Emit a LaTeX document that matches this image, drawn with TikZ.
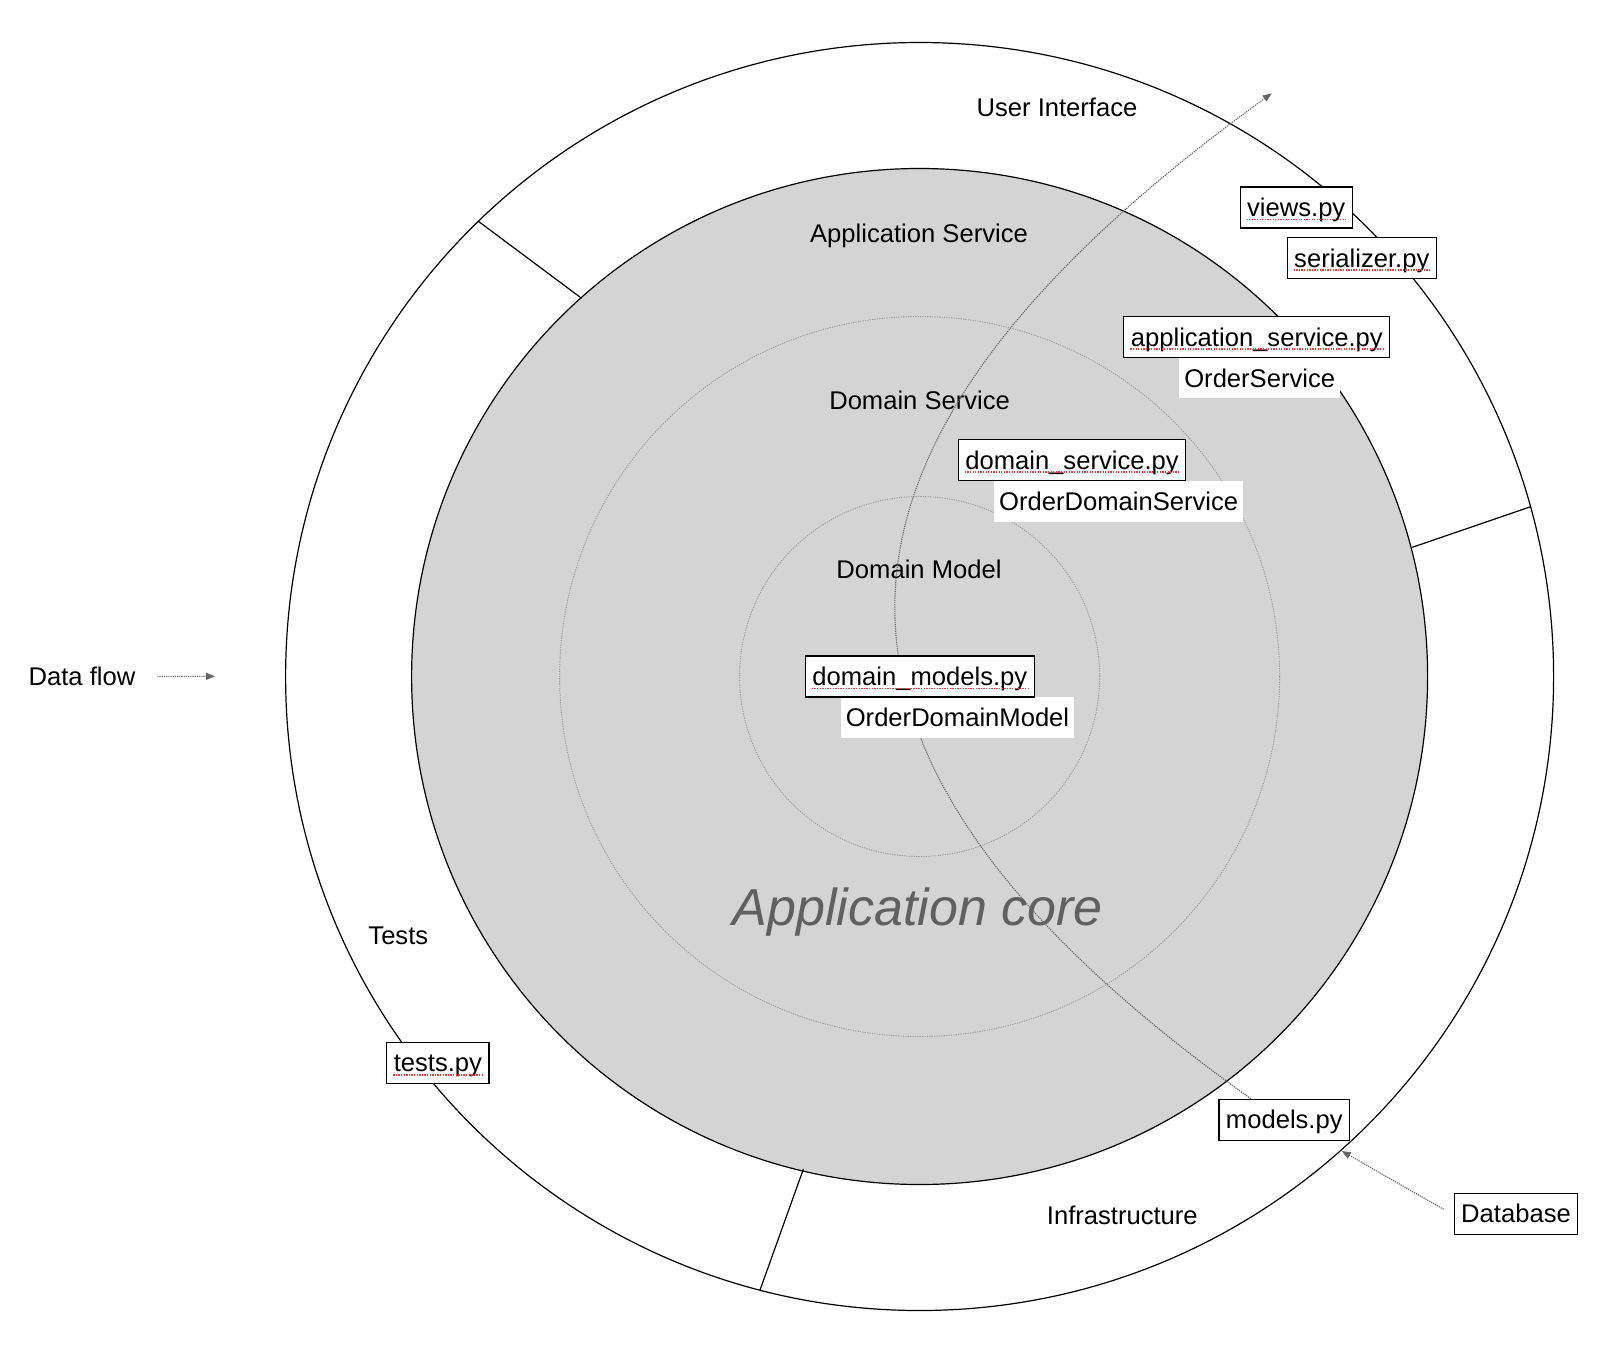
\documentclass[tikz,border=0pt]{standalone}
\usepackage{fontspec}
\setmainfont{Liberation Sans}
\usetikzlibrary{arrows.meta,calc}
\definecolor{coregray}{HTML}{D4D4D4}
\definecolor{ringdot}{HTML}{9A9A9A}
\definecolor{flowgray}{HTML}{666666}
\definecolor{bigtext}{HTML}{606060}
\definecolor{spellred}{HTML}{EE3B3B}
\begin{document}
\begin{tikzpicture}[x=1pt,y=-1pt,
  txt/.style={font=\fontsize{25.6pt}{30pt}\selectfont, inner sep=0pt, text height=18.3pt, text depth=0pt},
  filebox/.style={txt, draw=black, line width=1.1pt, fill=white, inner xsep=7pt, inner ysep=0pt, minimum height=41pt},
  tag/.style={txt, fill=white, inner xsep=5pt, inner ysep=0pt, minimum height=40.6pt},
  ring/.style={draw=black, line width=1.2pt},
  dotring/.style={draw=ringdot, line width=0.9pt, dash pattern=on 1.2pt off 1.2pt},
  flow/.style={draw=flowgray, line width=1.1pt, dash pattern=on 1.2pt off 1pt, -{Triangle[length=9pt,width=7pt]}},
  squig/.style={draw=spellred, line width=1.8pt, dash pattern=on 1.3pt off 1.3pt}
]
\useasboundingbox (0,0) rectangle (1622,1358);
\coordinate (c) at (919.6,676.5);
% rings
\draw[ring] (c) circle[radius=634pt];
\draw[ring, fill=coregray] (c) circle[radius=508pt];
\draw[dotring] (c) circle[radius=360pt];
\draw[dotring] (c) circle[radius=180pt];
% dividers of the outer ring
\draw[ring] (478,221) -- (581.6,298.3);
\draw[ring] (1412.3,547.3) -- (1530.7,506.7);
\draw[ring] (803.3,1169.3) -- (760,1290);
% layer labels
\node[txt] (ui) at (1057,107.6) {User Interface};
\node[txt] (appservice) at (919,233) {Application Service};
\node[txt] (domservice) at (919.6,400.3) {Domain Service};
\node[txt] (dommodel) at (919,569) {Domain Model};
\node[txt] (testslabel) at (398.3,935) {Tests};
\node[txt] (infra) at (1122.3,1215.4) {Infrastructure};
\node[txt] (dataflow) at (82,676.5) {Data flow};
\node[font=\fontsize{52pt}{60pt}\selectfont\itshape, text=bigtext, anchor=base, inner sep=0pt] (core) at (917.6,925) {Application core};
% free ends
\coordinate (uiend) at (1271.7,93.3);
\coordinate (dbend) at (1341.7,1151);
\coordinate (dfend) at (215,676.3);
% file boxes that the flow starts from
\node[filebox] (models) at (1284.3,1119.8) {models.py};
\node[filebox] (db) at (1516,1213.8) {Database};
% data flow
\draw[flow] ([xshift=32.4pt]models.north west) .. controls (762,750.6) and (786,445) .. (uiend);
\draw[flow] ([shift={(-10pt,4.5pt)}]db.west) -- (dbend);
\draw[flow] ([xshift=21.7pt]dataflow.east) -- (dfend);
% class tags
\node[tag] (ordsvc) at (1259.7,378) {OrderService};
\node[tag] (orddomsvc) at (1118.7,501.5) {OrderDomainService};
\node[tag] (orddommod) at (957.5,717.5) {OrderDomainModel};
% file boxes
\node[filebox] (views) at (1296.2,207.5) {views.py};
\node[filebox] (serial) at (1361.8,258) {serializer.py};
\node[filebox] (appsvc) at (1256.8,337.2) {application\_service.py};
\node[filebox] (domsvc) at (1072,460.3) {domain\_service.py};
\node[filebox] (dommod) at (919.8,676.5) {domain\_models.py};
\node[filebox] (tests) at (437.9,1062.8) {tests.py};
% spell-check underlines
\foreach \n in {views,serial,appsvc,domsvc,dommod,tests}
  \draw[squig] ([shift={(7pt,-2.8pt)}]\n.base west) -- ([shift={(-7pt,-2.8pt)}]\n.base east);
\end{tikzpicture}
\end{document}
